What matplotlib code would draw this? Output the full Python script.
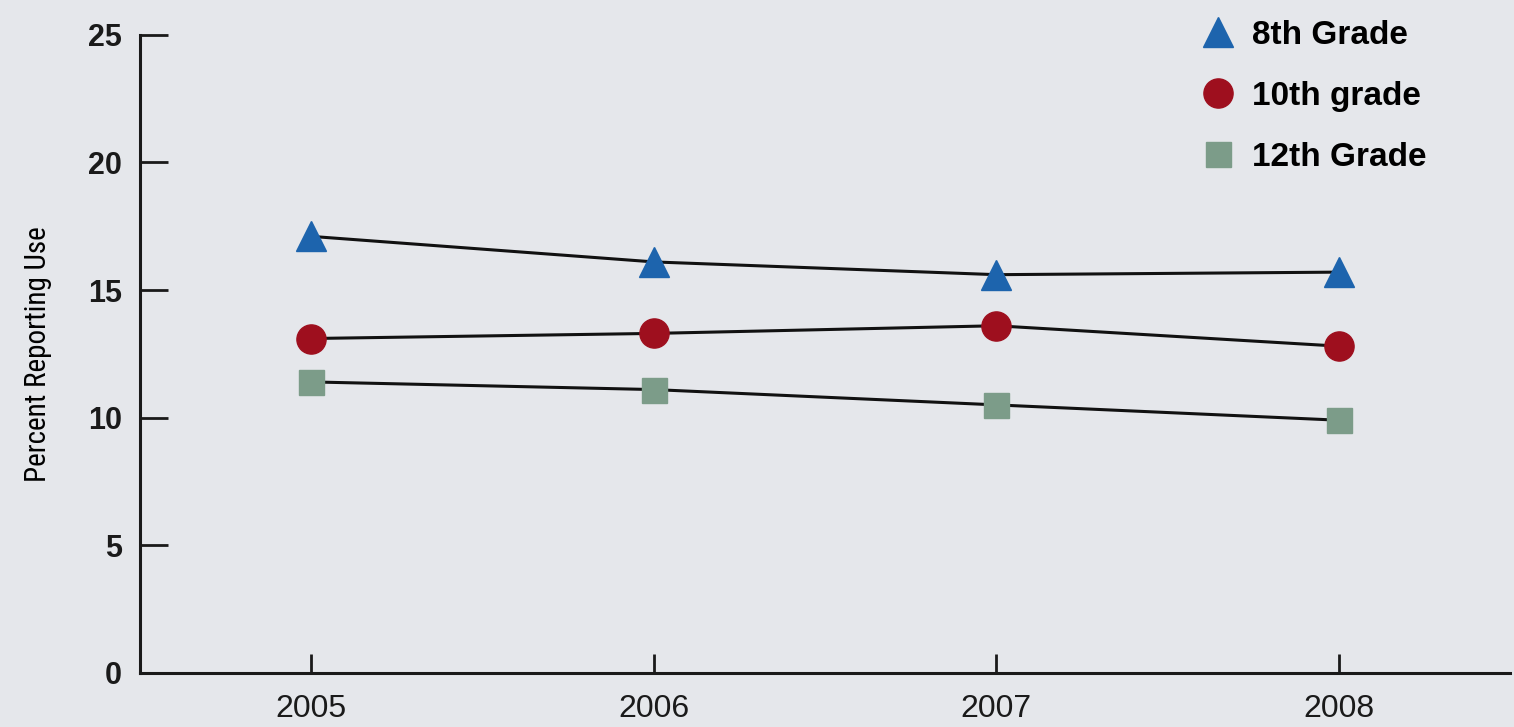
import matplotlib
matplotlib.use("Agg")
import matplotlib.pyplot as plt

# data
years = [2005, 2006, 2007, 2008]
grade8 = [17.1, 16.1, 15.6, 15.7]
grade10 = [13.1, 13.3, 13.6, 12.8]
grade12 = [11.4, 11.1, 10.5, 9.9]
series_names = ['8th Grade', '10th grade', '12th Grade']
yticks = [0, 5, 10, 15, 20, 25]

plt.rcParams['font.family'] = ['Liberation Sans', 'DejaVu Sans']

bg = '#e5e7eb'
fig = plt.figure(figsize=(15.14, 7.27), dpi=100, facecolor=bg)
ax = fig.add_axes([0.0925, 0.0743, 0.905, 0.878], facecolor=bg)

ax.plot(years, grade8, color='#111111', lw=2.2, marker='^', ms=22,
        mfc='#1d64ad', mec='#1d64ad', label=series_names[0], zorder=3)
ax.plot(years, grade10, color='#111111', lw=2.2, marker='o', ms=21,
        mfc='#9e0f1e', mec='#9e0f1e', label=series_names[1], zorder=3)
ax.plot(years, grade12, color='#111111', lw=2.2, marker='s', ms=18,
        mfc='#7c9c89', mec='#7c9c89', label=series_names[2], zorder=3)

ax.set_xlim(2004.5, 2008.5)
ax.set_ylim(0, 25)
ax.set_xticks(years)
ax.set_yticks(yticks)
ax.set_xticklabels([str(y) for y in years], fontsize=23)
ax.set_yticklabels([str(v) for v in yticks], fontsize=22, fontweight='bold')

for s in ['top', 'right']:
    ax.spines[s].set_visible(False)
for s in ['left', 'bottom']:
    ax.spines[s].set_linewidth(2.2)
    ax.spines[s].set_color('#1a1a1a')

ax.tick_params(axis='y', direction='in', length=20, width=2, pad=13, colors='#1a1a1a')
ax.tick_params(axis='x', direction='in', length=14, width=2, pad=15, colors='#1a1a1a')

ax.set_ylabel('Percent Reporting Use', fontsize=21,
              family=['Liberation Sans Narrow', 'DejaVu Sans Condensed',
                      'Roboto Condensed', 'Liberation Sans'], labelpad=26)

leg = ax.legend(loc='upper left', bbox_to_anchor=(0.7533, 1.0707), frameon=False,
                prop={'size': 24, 'weight': 'bold'}, handlelength=0.95,
                handletextpad=0.55, labelspacing=0.9, markerscale=1.0)
for h in leg.legend_handles:
    h.set_linestyle('none')

fig.savefig('out.png', dpi=100, facecolor=bg)
